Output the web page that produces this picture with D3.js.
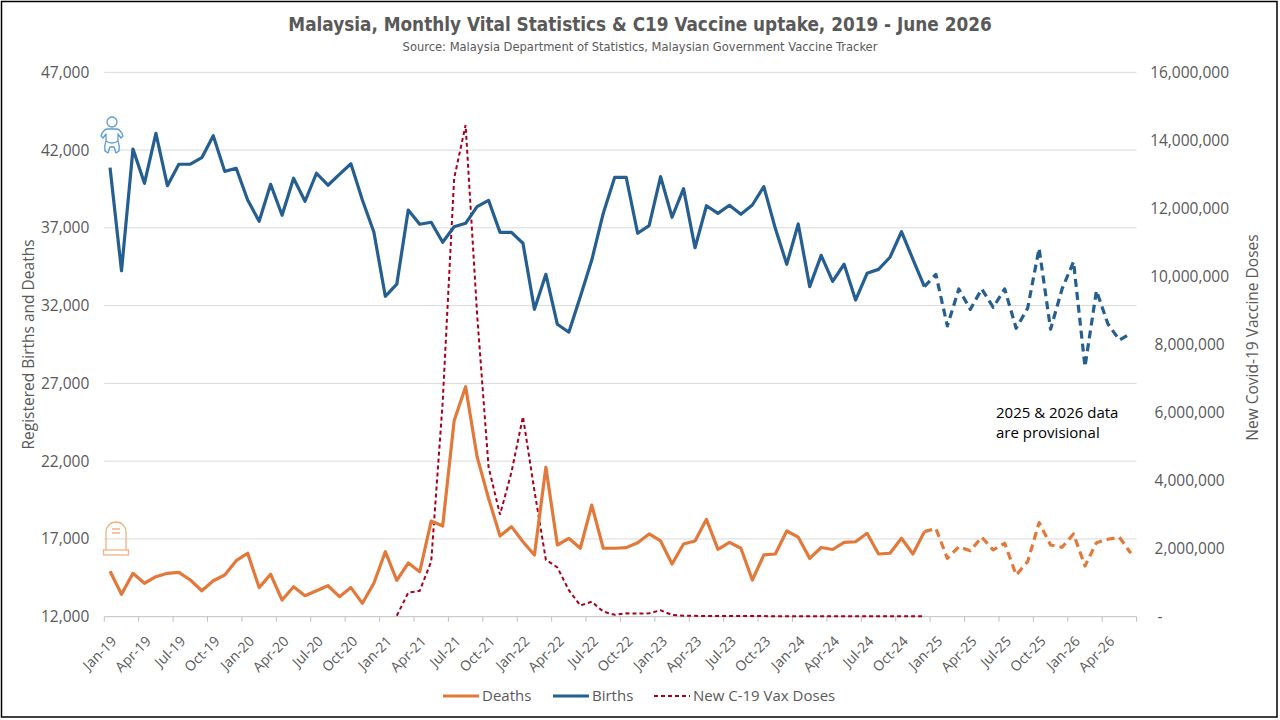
<!DOCTYPE html>
<html>
<head>
<meta charset="utf-8">
<script src="https://cdn.jsdelivr.net/npm/d3@7"></script>
<style>
  body { margin: 0; background: #fff; }
  svg { display: block; }
  text { font-family: "Open Sans", sans-serif; fill: #595959; }
</style>
</head>
<body>
<svg id="chart" width="1280" height="720"></svg>
<script>
// Monthly series, Jan-19 .. Jun-26
const months = d3.timeMonths(new Date(2019, 0, 1), new Date(2026, 6, 1));

const births = [
  40870, 34240, 42070, 39860, 43080, 39710, 41090, 41090, 41510, 42920, 40630, 40830,
  38790, 37420, 39800, 37810, 40190, 38710, 40510, 39740, 40440, 41120, 38790, 36730,
  32600, 33380, 38140, 37230, 37360, 36070, 37070, 37290, 38360, 38770, 36710, 36710,
  36010, 31760, 34010, 30800, 30290, 32570, 34930, 37930, 40250, 40250, 36650, 37140,
  40290, 37680, 39520, 35720, 38420, 37930, 38450, 37870, 38470, 39650, 36970, 34660,
  37250, 33220, 35230, 33560, 34660, 32360, 34080, 34330, 35110, 36750, 34980, 33220,
  34010, 30690, 33070, 31760, 33070, 31890, 33070, 30540, 31830, 35680, 30480, 33070,
  34820, 28070, 32960, 30820, 29790, 30220
];

const deaths = [
  14920, 13440, 14790, 14150, 14570, 14790, 14850, 14360, 13670, 14310, 14680, 15600,
  16080, 13870, 14730, 13070, 13930, 13350, 13670, 13990, 13290, 13870, 12860, 14150,
  16180, 14330, 15450, 14890, 18150, 17830, 24600, 26790, 22290, 19610, 17190, 17790,
  16820, 15970, 21610, 16610, 17040, 16400, 19180, 16400, 16400, 16440, 16760, 17320,
  16870, 15390, 16670, 16870, 18260, 16330, 16780, 16400, 14360, 15970, 16030, 17510,
  17110, 15750, 16450, 16320, 16780, 16820, 17360, 16030, 16080, 17040, 16030, 17470,
  17680, 15750, 16500, 16240, 17110, 16290, 16720, 14680, 15540, 18050, 16610, 16460,
  17320, 15260, 16760, 16980, 17110, 16080
];

// New C-19 vaccine doses, Feb-21 .. Dec-24
const vaxStart = "Feb-21";
const vaxDoses = [
  30000, 705000, 760000, 1620000, 6300000, 12880000, 14450000, 8900000, 4400000, 3000000, 4250000,
  5880000, 3700000, 1670000, 1450000, 780000, 330000, 440000, 150000, 55000, 100000, 90000, 100000,
  190000, 50000, 30000, 25000, 22000, 20000, 20000, 18000, 18000, 17000, 16000, 15000,
  15000, 14000, 14000, 13000, 13000, 12000, 12000, 12000, 11000, 11000, 10000, 10000
];

const provisionalFrom = "Dec-24";
const leftTicks = [12000, 17000, 22000, 27000, 32000, 37000, 42000, 47000];
const rightTicks = [0, 2000000, 4000000, 6000000, 8000000, 10000000, 12000000, 14000000, 16000000];

const fmtMonth = d3.timeFormat("%b-%y");
const monthLabels = months.map(fmtMonth);
const quarterLabels = monthLabels.filter((d, i) => i % 3 === 0);

const svg = d3.select("#chart");
const plotLeft = 104.3, plotRight = 1136.6, plotTop = 72.3, plotBottom = 616.7;

const x = d3.scaleBand().domain(monthLabels).range([plotLeft, plotRight]);
const yL = d3.scaleLinear().domain([12000, 47000]).range([plotBottom, plotTop]);
const yR = d3.scaleLinear().domain([0, 16000000]).range([plotBottom, plotTop]);
const cx = m => x(m) + x.bandwidth() / 2;

svg.append("rect").attr("width", 1280).attr("height", 720).attr("fill", "#fff");
svg.append("rect")
  .attr("x", 1.5).attr("y", 1.5).attr("width", 1275.5).attr("height", 715.5)
  .attr("fill", "none").attr("stroke", "#000").attr("stroke-width", 1.5);

// Title
svg.append("text")
  .attr("x", 640).attr("y", 31)
  .attr("text-anchor", "middle")
  .style("font-family", "'DejaVu Sans Condensed', sans-serif")
  .style("font-weight", "bold").style("font-size", "18.8px")
  .text("Malaysia, Monthly Vital Statistics & C19 Vaccine uptake, 2019 - June 2026");
svg.append("text")
  .attr("x", 640).attr("y", 51)
  .attr("text-anchor", "middle")
  .style("font-family", "'DejaVu Sans Condensed', sans-serif")
  .style("font-size", "12.8px")
  .text("Source: Malaysia Department of Statistics, Malaysian Government Vaccine Tracker");

// Gridlines
svg.append("g")
  .selectAll("line")
  .data(leftTicks.slice(1))
  .join("line")
  .attr("x1", plotLeft).attr("x2", plotRight)
  .attr("y1", d => yL(d)).attr("y2", d => yL(d))
  .attr("stroke", "#D9D9D9").attr("stroke-width", 1);

// Left axis
const gL = svg.append("g")
  .attr("transform", `translate(${plotLeft},0)`)
  .call(d3.axisLeft(yL).tickValues(leftTicks).tickSize(0).tickPadding(15).tickFormat(d3.format(",")));
gL.select(".domain").remove();
gL.selectAll("text").style("font-size", "15.5px").style("font-family", "'Open Sans', sans-serif").attr("fill", "#595959");

// Right axis (labels centred, as in the original)
const gR = svg.append("g")
  .attr("transform", `translate(${plotRight},0)`)
  .call(d3.axisRight(yR).tickValues(rightTicks).tickSize(0).tickPadding(53)
    .tickFormat(d => d === 0 ? "-" : d3.format(",")(d)));
gR.select(".domain").remove();
gR.selectAll("text")
  .style("font-size", "15.5px").style("font-family", "'Open Sans', sans-serif")
  .attr("fill", "#595959").attr("text-anchor", "middle");
gR.selectAll(".tick").filter(d => d === 0).select("text")
  .attr("x", 21).attr("text-anchor", "start");

// X axis baseline + quarter tick marks
svg.append("line")
  .attr("x1", plotLeft).attr("x2", plotRight).attr("y1", plotBottom).attr("y2", plotBottom)
  .attr("stroke", "#BFBFBF").attr("stroke-width", 1);
const tickXs = quarterLabels.map(m => x(m)).concat([plotRight]);
svg.append("g")
  .selectAll("line")
  .data(tickXs)
  .join("line")
  .attr("x1", d => d).attr("x2", d => d)
  .attr("y1", plotBottom).attr("y2", plotBottom + 5)
  .attr("stroke", "#BFBFBF").attr("stroke-width", 1);

const gX = svg.append("g")
  .attr("transform", `translate(0,${plotBottom})`)
  .call(d3.axisBottom(x).tickValues(quarterLabels).tickSize(0));
gX.select(".domain").remove();
gX.selectAll("text")
  .style("font-size", "14px").style("font-family", "'Open Sans', sans-serif")
  .attr("fill", "#595959")
  .attr("text-anchor", "end")
  .attr("y", 0).attr("dy", "0.35em")
  .attr("transform", "translate(4,22) rotate(-45)");

// Axis titles
svg.append("text")
  .attr("transform", `translate(34,${(plotTop + plotBottom) / 2}) rotate(-90)`)
  .attr("text-anchor", "middle")
  .style("font-size", "15.5px")
  .text("Registered Births and Deaths");
svg.append("text")
  .attr("transform", `translate(1258,${(plotTop + plotBottom) / 2 - 7}) rotate(-90)`)
  .attr("text-anchor", "middle")
  .style("font-size", "15.5px")
  .text("New Covid-19 Vaccine Doses");

// Series
const lineL = d3.line().x(d => cx(d.m)).y(d => yL(d.v));
const lineR = d3.line().x(d => cx(d.m)).y(d => yR(d.v));
const cut = monthLabels.indexOf(provisionalFrom);

const birthsData = monthLabels.map((m, i) => ({ m, v: births[i] }));
const deathsData = monthLabels.map((m, i) => ({ m, v: deaths[i] }));
const v0 = monthLabels.indexOf(vaxStart);
const vaxData = vaxDoses.map((v, i) => ({ m: monthLabels[v0 + i], v }));

const birthsColor = "#255E91", deathsColor = "#E2793A", vaxColor = "#A8001C";

svg.append("path").datum(vaxData)
  .attr("d", lineR).attr("fill", "none")
  .attr("stroke", vaxColor).attr("stroke-width", 2)
  .attr("stroke-dasharray", "4,3");

[[deathsData, deathsColor], [birthsData, birthsColor]].forEach(([data, color]) => {
  svg.append("path").datum(data.slice(0, cut + 1))
    .attr("d", lineL).attr("fill", "none")
    .attr("stroke", color).attr("stroke-width", 3.2)
    .attr("stroke-linejoin", "round");
  svg.append("path").datum(data.slice(cut))
    .attr("d", lineL).attr("fill", "none")
    .attr("stroke", color).attr("stroke-width", 3.2)
    .attr("stroke-dasharray", "8,5")
    .attr("stroke-linejoin", "round");
});

// Icons: baby (births) and tombstone (deaths)
const baby = svg.append("g")
  .attr("transform", "translate(112,138)")
  .attr("fill", "none").attr("stroke", "#5B9BD5").attr("stroke-width", 1.3)
  .attr("stroke-linejoin", "round");
baby.append("circle").attr("cx", 0).attr("cy", -16).attr("r", 5);
baby.append("path").attr("d",
  "M-5,-9 Q-9,-8 -11,-2 L-9,0 L-6,-4 L-6,3 Q-8,8 -7,13 L-4,15 L-2,9 L2,9 L4,15 L7,13 Q8,8 6,3 L6,-4 L9,0 L11,-2 Q9,-8 5,-9 Z");
baby.append("path").attr("d", "M-6,3 Q0,7 6,3");

const stone = svg.append("g")
  .attr("transform", "translate(116,538)")
  .attr("fill", "none").attr("stroke", "#F4B183").attr("stroke-width", 1.3);
stone.append("path").attr("d", "M-10,12 L-10,-6 A10,10 0 0 1 10,-6 L10,12");
stone.append("rect").attr("x", -12.5).attr("y", 12).attr("width", 25).attr("height", 5);
stone.append("path").attr("d", "M-4,-9 L4,-9 M-4,-5 L4,-5");

// Annotation
svg.append("text")
  .attr("x", 996).attr("y", 418)
  .style("font-size", "15px").style("fill", "#000")
  .selectAll("tspan")
  .data(["2025 & 2026 data", "are provisional"])
  .join("tspan")
  .attr("x", 996).attr("dy", (d, i) => i === 0 ? 0 : 19.5)
  .text(d => d);

// Legend
const legendItems = [
  { label: "Deaths", color: deathsColor, dash: null, x: 443, w: 3 },
  { label: "Births", color: birthsColor, dash: null, x: 553, w: 3 },
  { label: "New C-19 Vax Doses", color: vaxColor, dash: "4,3", x: 654, w: 2 }
];
const lg = svg.append("g").selectAll("g").data(legendItems).join("g")
  .attr("transform", d => `translate(${d.x},696)`);
lg.append("line")
  .attr("x1", 0).attr("x2", 36)
  .attr("stroke", d => d.color).attr("stroke-width", d => d.w)
  .attr("stroke-dasharray", d => d.dash);
lg.append("text")
  .attr("x", 39).attr("dy", "0.35em")
  .style("font-size", "15px")
  .text(d => d.label);
</script>
</body>
</html>
